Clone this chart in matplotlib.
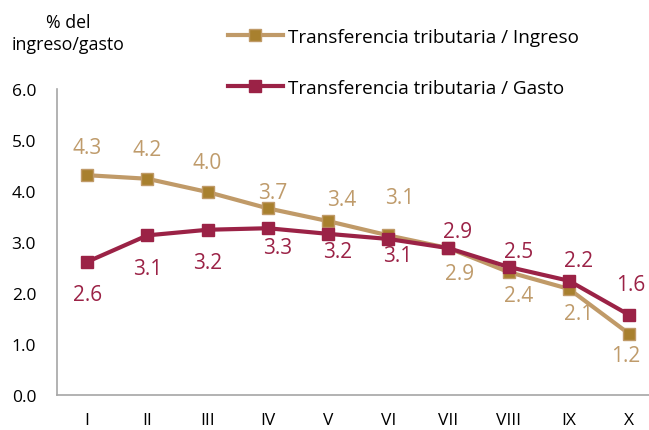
import matplotlib
matplotlib.use("Agg")
import matplotlib.pyplot as plt

plt.rcParams['font.family'] = ['Open Sans', 'DejaVu Sans']

deciles = ["I", "II", "III", "IV", "V", "VI", "VII", "VIII", "IX", "X"]
ingreso = [4.31, 4.24, 3.98, 3.66, 3.41, 3.13, 2.88, 2.41, 2.08, 1.20]
gasto = [2.61, 3.13, 3.24, 3.27, 3.16, 3.06, 2.88, 2.51, 2.24, 1.57]

c_ing_line = "#C09A68"
c_ing_mark = "#A8802E"
c_ing_text = "#BF9B6B"
c_gas = "#9B2246"

fig = plt.figure(figsize=(6.49, 4.31), dpi=100)
ax = fig.add_axes([57 / 649, 1 - 396 / 431, 1 - 57 / 649, (396 - 90) / 431])

x = range(len(deciles))
ax.plot(x, ingreso, color=c_ing_line, lw=3, marker="s", ms=9,
        mfc=c_ing_mark, mec=c_ing_line, label="Transferencia tributaria / Ingreso", zorder=3)
ax.plot(x, gasto, color=c_gas, lw=3, marker="s", ms=9,
        mfc=c_gas, mec=c_gas, label="Transferencia tributaria / Gasto", zorder=4)

# label offsets in pixels (dx right, dy down)
ing_off = [(0, -28), (0, -29), (0, -30), (5, -16), (14, -22), (11, -38),
           (11, 25), (10, 23), (10, 25), (-3, 22)]
gas_off = [(0, 33), (0, 33), (0, 33), (10, 19), (10, 18), (9, 17),
           (9, -17), (10, -15), (10, -20), (2, -30)]
for i, v in enumerate(ingreso):
    dx, dy = ing_off[i]
    ax.annotate(f"{v:.1f}", (i, v), xytext=(dx, -dy), textcoords="offset pixels",
                ha="center", va="center", color=c_ing_text, fontsize=15)
for i, v in enumerate(gasto):
    dx, dy = gas_off[i]
    ax.annotate(f"{v:.1f}", (i, v), xytext=(dx, -dy), textcoords="offset pixels",
                ha="center", va="center", color=c_gas, fontsize=15)

ax.set_xlim(-0.5, 9.33)
ax.set_ylim(0, 6)
ax.set_yticks([0, 1, 2, 3, 4, 5, 6])
ax.set_yticklabels([f"{t:.1f}" for t in range(7)])
ax.set_xticks(list(x))
ax.set_xticklabels(deciles)
ax.tick_params(length=0, labelsize=12.5)
ax.tick_params(axis="x", pad=12)
ax.tick_params(axis="y", pad=15)
for s in ["top", "right"]:
    ax.spines[s].set_visible(False)
for s in ["left", "bottom"]:
    ax.spines[s].set_color("#A6A6A6")
    ax.spines[s].set_linewidth(1.2)

fig.text(68 / 649, 1 - 34 / 431, "% del\ningreso/gasto", ha="center", va="center",
         fontsize=12.8, linespacing=1.3)

fig.legend(loc="upper left", bbox_to_anchor=(228 / 649, 1 - 29 / 431), frameon=False,
           fontsize=13.6, handlelength=2.9, handletextpad=0.25, labelspacing=1.75,
           borderpad=0, borderaxespad=0)

fig.savefig("out.png", dpi=100)
